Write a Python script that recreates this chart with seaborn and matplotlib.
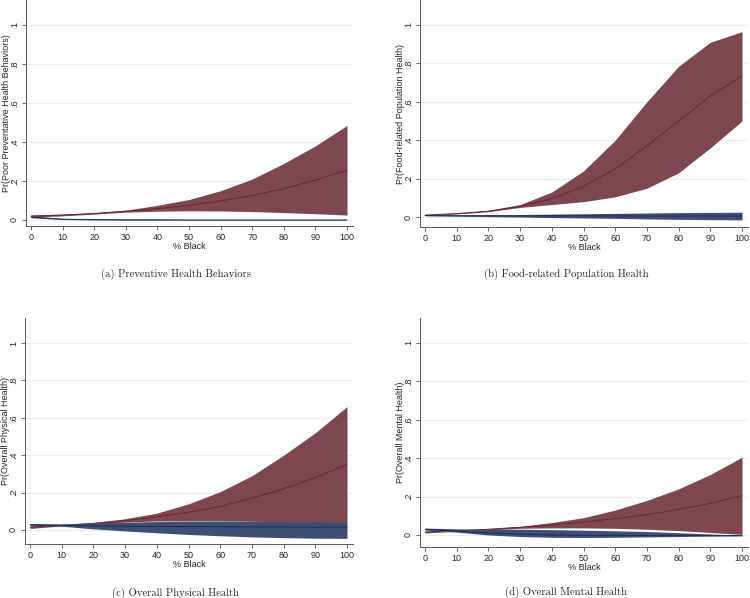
import numpy as np
import pandas as pd
import matplotlib
matplotlib.use("Agg")
import matplotlib.pyplot as plt
import seaborn as sns

# --- data (predicted probability by % Black) ---
pct_black = [0, 10, 20, 30, 40, 50, 60, 70, 80, 90, 100]

# (a) Preventive Health Behaviors
a_red_mean = [0.020, 0.025, 0.033, 0.045, 0.058, 0.075, 0.098, 0.125, 0.160, 0.205, 0.255]
a_red_hi = [0.025, 0.030, 0.037, 0.050, 0.075, 0.105, 0.150, 0.210, 0.290, 0.380, 0.485]
a_red_lo = [0.014, 0.021, 0.030, 0.040, 0.045, 0.047, 0.046, 0.043, 0.038, 0.032, 0.025]
a_blue_mean = [0.015, 0.004, 0.002, 0.001, 0.001, 0.000, 0.000, 0.000, 0.000, 0.000, 0.000]
a_blue_hi = [0.020, 0.007, 0.004, 0.003, 0.003, 0.002, 0.002, 0.002, 0.002, 0.002, 0.002]
a_blue_lo = [0.011, 0.002, 0.000, -0.001, -0.001, -0.001, -0.001, -0.001, -0.001, -0.001, -0.001]

# (b) Food-related Population Health
b_red_mean = [0.010, 0.018, 0.030, 0.055, 0.095, 0.160, 0.250, 0.370, 0.500, 0.630, 0.735]
b_red_hi = [0.012, 0.021, 0.035, 0.065, 0.130, 0.240, 0.400, 0.600, 0.785, 0.910, 0.965]
b_red_lo = [0.008, 0.016, 0.028, 0.050, 0.065, 0.080, 0.105, 0.150, 0.230, 0.360, 0.500]
b_blue_mean = [0.008, 0.007, 0.007, 0.006, 0.006, 0.006, 0.006, 0.005, 0.005, 0.005, 0.005]
b_blue_hi = [0.010, 0.010, 0.011, 0.013, 0.015, 0.017, 0.019, 0.021, 0.023, 0.024, 0.025]
b_blue_lo = [0.006, 0.004, 0.002, 0.000, -0.003, -0.005, -0.007, -0.010, -0.012, -0.014, -0.015]

# (c) Overall Physical Health
c_red_mean = [0.015, 0.025, 0.035, 0.050, 0.070, 0.095, 0.125, 0.170, 0.220, 0.280, 0.350]
c_red_hi = [0.022, 0.028, 0.040, 0.060, 0.090, 0.140, 0.205, 0.290, 0.400, 0.520, 0.660]
c_red_lo = [0.008, 0.022, 0.032, 0.043, 0.048, 0.050, 0.050, 0.047, 0.043, 0.040, 0.040]
c_blue_mean = [0.028, 0.025, 0.022, 0.020, 0.019, 0.018, 0.017, 0.016, 0.016, 0.015, 0.015]
c_blue_hi = [0.034, 0.032, 0.038, 0.042, 0.045, 0.048, 0.048, 0.047, 0.045, 0.043, 0.040]
c_blue_lo = [0.025, 0.020, 0.006, -0.005, -0.015, -0.024, -0.031, -0.037, -0.041, -0.044, -0.045]

# (d) Overall Mental Health
d_red_mean = [0.015, 0.022, 0.030, 0.040, 0.053, 0.068, 0.085, 0.105, 0.133, 0.165, 0.205]
d_red_hi = [0.020, 0.025, 0.033, 0.045, 0.065, 0.090, 0.130, 0.180, 0.240, 0.315, 0.405]
d_red_lo = [0.010, 0.020, 0.027, 0.035, 0.037, 0.037, 0.035, 0.030, 0.023, 0.013, 0.003]
d_blue_mean = [0.030, 0.020, 0.010, 0.004, 0.000, -0.002, -0.002, -0.003, -0.003, -0.003, -0.003]
d_blue_hi = [0.036, 0.032, 0.031, 0.030, 0.028, 0.025, 0.022, 0.018, 0.012, 0.005, 0.000]
d_blue_lo = [0.025, 0.015, 0.000, -0.008, -0.012, -0.013, -0.012, -0.010, -0.008, -0.006, -0.005]

y_ticks = [0, 0.2, 0.4, 0.6, 0.8, 1.0]
y_tick_labels = ["0", ".2", ".4", ".6", ".8", "1"]
x_ticks = [0, 10, 20, 30, 40, 50, 60, 70, 80, 90, 100]

panels = [
    ("Pr(Poor Preventative Health Behaviors)", "(a) Preventive Health Behaviors",
     a_red_mean, a_red_hi, a_red_lo, a_blue_mean, a_blue_hi, a_blue_lo),
    ("Pr(Food-related Population Health)", "(b) Food-related Population Health",
     b_red_mean, b_red_hi, b_red_lo, b_blue_mean, b_blue_hi, b_blue_lo),
    ("Pr(Overall Physical Health)", "(c) Overall Physical Health",
     c_red_mean, c_red_hi, c_red_lo, c_blue_mean, c_blue_hi, c_blue_lo),
    ("Pr(Overall Mental Health)", "(d) Overall Mental Health",
     d_red_mean, d_red_hi, d_red_lo, d_blue_mean, d_blue_hi, d_blue_lo),
]

sns.set_style("white")
plt.rcParams["font.family"] = ["Liberation Sans", "DejaVu Sans"]

W, H = 750, 598
fig = plt.figure(figsize=(7.5, 5.98), dpi=100)

# pixel boxes: left, top, right, bottom ; ylim bottom/top
boxes = [
    (26, 0, 353, 226, -0.031, 1.128),
    (420, 0, 748, 227, -0.052, 1.130),
    (25, 318, 353, 544, -0.075, 1.134),
    (420, 318, 748, 547, -0.0625, 1.130),
]
captions = [(176, 274), (566, 274), (176, 593), (566, 592)]

RED_FILL = "#7e4750"
RED_LINE = "#6a2430"
BLUE_FILL = "#3f4e74"
BLUE_LINE = "#1d2c52"

for (ylab, cap, rm, rh, rl, bm, bh, bl), (l, t, r, b, y0, y1), (cx, cy) in zip(panels, boxes, captions):
    ax = fig.add_axes([l / W, (H - b) / H, (r - l) / W, (b - t) / H])
    df = pd.DataFrame({"pct": pct_black, "red": rm, "blue": bm})

    for yv in y_ticks:
        ax.axhline(yv, color="#e6efef", lw=0.8, zorder=0)

    ax.fill_between(pct_black, rl, rh, color=RED_FILL, lw=0, zorder=2)
    sns.lineplot(data=df, x="pct", y="red", ax=ax, color=RED_LINE, lw=0.7, zorder=3)
    ax.fill_between(pct_black, bl, bh, color=BLUE_FILL, lw=0, zorder=4)
    sns.lineplot(data=df, x="pct", y="blue", ax=ax, color=BLUE_LINE, lw=0.7, zorder=5)

    ax.set_xlim(-1.6, 101.9)
    ax.set_ylim(y0, y1)
    ax.set_xticks(x_ticks)
    ax.set_yticks(y_ticks)
    ax.set_yticklabels(y_tick_labels, rotation=90, va="center")
    ax.tick_params(axis="both", labelsize=6.5, length=3, width=0.6, color="#555555",
                   pad=2, direction="out", left=True, bottom=True)
    ax.set_xlabel("% Black", fontsize=6.5, labelpad=0)
    ax.set_ylabel(ylab, fontsize=6.5)
    ax.yaxis.set_label_coords(-15 / (r - l), 0.5)
    for s in ["top", "right"]:
        ax.spines[s].set_visible(False)
    for s in ["left", "bottom"]:
        ax.spines[s].set_color("#555555")
        ax.spines[s].set_linewidth(0.7)

    fig.text(cx / W, (H - cy) / H, cap, ha="center", va="center",
             fontsize=7.7, family=["cmr10", "DejaVu Serif"])

plt.savefig("out.png", dpi=100)
